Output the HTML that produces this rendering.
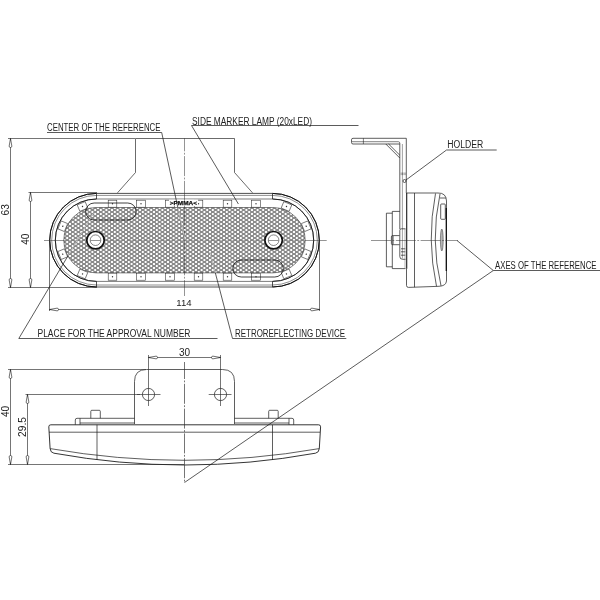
<!DOCTYPE html>
<html lang="en"><head><meta charset="utf-8"><title>Side marker lamp drawing</title>
<style>html,body{margin:0;padding:0;background:#fff}svg{display:block;will-change:transform;opacity:.999}text{font-family:"Liberation Sans",sans-serif;fill:#222}</style></head><body>
<svg width="600" height="600" viewBox="0 0 600 600">
<defs>
<pattern id="hex" x="0" y="0" width="5.6" height="4" patternUnits="userSpaceOnUse"><rect width="5.6" height="4" fill="#fff"/><path d="M-0.686,0 H0.686 L2.114,2 L0.686,4 H-0.686 M4.914,0 H6.286 M4.914,4 H6.286 M4.914,0 L3.486,2 L4.914,4 M2.114,2 H3.486" fill="none" stroke="#1a1a1a" stroke-width="0.78"/></pattern>
<clipPath id="rc"><rect x="63.90" y="207.60" width="241.20" height="65.2" rx="32.6"/></clipPath>
</defs>
<rect width="600" height="600" fill="#fff"/>
<g fill="none" stroke="#1a1a1a" stroke-width="0.75">
<path d="M117.5,192.8 L135.5,172.5 V138.5 H234.5 V172.5 L252.5,192.8" stroke-width="0.65"/>
<rect x="49.70" y="193.40" width="269.60" height="93.60" rx="46.80" stroke="#222" stroke-width="0.8" fill="#fff"/>
<rect x="51.70" y="195.40" width="265.60" height="89.60" rx="44.80" stroke="#333" stroke-width="0.55"/>
<rect x="55.30" y="199.00" width="258.40" height="82.40" rx="41.20" stroke="#444" stroke-width="0.7"/>
<rect x="63.80" y="207.50" width="241.40" height="65.40" rx="32.70" fill="url(#hex)" stroke="#333" stroke-width="0.6"/>
<path d="M96.5,193.39999999999998 v5.6 M96.5,287.0 v-5.6"/>
<path d="M272.5,193.39999999999998 v5.6 M272.5,287.0 v-5.6"/>
<path d="M96.5,193.39999999999998 A46.8,46.8 0 0 0 96.5,287.0 M272.5,193.39999999999998 A46.8,46.8 0 0 1 272.5,287.0" stroke="#111" stroke-width="1.0"/>
<path d="M96.5,199.0 A41.2,41.2 0 0 0 96.5,281.4 M272.5,199.0 A41.2,41.2 0 0 1 272.5,281.4" stroke="#111" stroke-width="0.85"/>
</g>
<g fill="#fff" stroke="#2a2a2a" stroke-width="0.55">
<g transform="translate(112.50,203.70) rotate(0.0)"><rect x="-4.3" y="-3.5" width="8.6" height="7.0"/><circle r="0.7" fill="#333" stroke="none"/></g>
<g transform="translate(112.50,276.70) rotate(0.0)"><rect x="-4.3" y="-3.5" width="8.6" height="7.0"/><circle r="0.7" fill="#333" stroke="none"/></g>
<g transform="translate(141.00,203.70) rotate(0.0)"><rect x="-4.3" y="-3.5" width="8.6" height="7.0"/><circle r="0.7" fill="#333" stroke="none"/></g>
<g transform="translate(141.00,276.70) rotate(0.0)"><rect x="-4.3" y="-3.5" width="8.6" height="7.0"/><circle r="0.7" fill="#333" stroke="none"/></g>
<g transform="translate(170.00,203.70) rotate(0.0)"><rect x="-4.3" y="-3.5" width="8.6" height="7.0"/><circle r="0.7" fill="#333" stroke="none"/></g>
<g transform="translate(170.00,276.70) rotate(0.0)"><rect x="-4.3" y="-3.5" width="8.6" height="7.0"/><circle r="0.7" fill="#333" stroke="none"/></g>
<g transform="translate(198.50,203.70) rotate(0.0)"><rect x="-4.3" y="-3.5" width="8.6" height="7.0"/><circle r="0.7" fill="#333" stroke="none"/></g>
<g transform="translate(198.50,276.70) rotate(0.0)"><rect x="-4.3" y="-3.5" width="8.6" height="7.0"/><circle r="0.7" fill="#333" stroke="none"/></g>
<g transform="translate(227.50,203.70) rotate(0.0)"><rect x="-4.3" y="-3.5" width="8.6" height="7.0"/><circle r="0.7" fill="#333" stroke="none"/></g>
<g transform="translate(227.50,276.70) rotate(0.0)"><rect x="-4.3" y="-3.5" width="8.6" height="7.0"/><circle r="0.7" fill="#333" stroke="none"/></g>
<g transform="translate(256.00,203.70) rotate(0.0)"><rect x="-4.3" y="-3.5" width="8.6" height="7.0"/><circle r="0.7" fill="#333" stroke="none"/></g>
<g transform="translate(256.00,276.70) rotate(0.0)"><rect x="-4.3" y="-3.5" width="8.6" height="7.0"/><circle r="0.7" fill="#333" stroke="none"/></g>
<g transform="translate(62.78,226.23) rotate(-157.5)"><rect x="-3.5" y="-4.3" width="7.0" height="8.6"/><circle r="0.7" fill="#333" stroke="none"/></g>
<g transform="translate(62.78,254.17) rotate(157.5)"><rect x="-3.5" y="-4.3" width="7.0" height="8.6"/><circle r="0.7" fill="#333" stroke="none"/></g>
<g transform="translate(306.22,226.23) rotate(-22.5)"><rect x="-3.5" y="-4.3" width="7.0" height="8.6"/><circle r="0.7" fill="#333" stroke="none"/></g>
<g transform="translate(306.22,254.17) rotate(22.5)"><rect x="-3.5" y="-4.3" width="7.0" height="8.6"/><circle r="0.7" fill="#333" stroke="none"/></g>
<g transform="translate(82.53,206.48) rotate(-112.5)"><rect x="-3.5" y="-4.3" width="7.0" height="8.6"/><circle r="0.7" fill="#333" stroke="none"/></g>
<g transform="translate(82.53,273.92) rotate(112.5)"><rect x="-3.5" y="-4.3" width="7.0" height="8.6"/><circle r="0.7" fill="#333" stroke="none"/></g>
<g transform="translate(286.47,206.48) rotate(-67.5)"><rect x="-3.5" y="-4.3" width="7.0" height="8.6"/><circle r="0.7" fill="#333" stroke="none"/></g>
<g transform="translate(286.47,273.92) rotate(67.5)"><rect x="-3.5" y="-4.3" width="7.0" height="8.6"/><circle r="0.7" fill="#333" stroke="none"/></g>
</g>
<g fill="none" stroke="#111" stroke-width="0.8">
<rect x="85.7" y="203" width="50.5" height="17" rx="8.5"/>
<rect x="232.8" y="260" width="50.5" height="17" rx="8.5"/>
</g>
<circle cx="95.5" cy="240.2" r="8.7" fill="#fff" stroke="#111" stroke-width="1.7"/>
<circle cx="95.5" cy="240.2" r="5.3" fill="#fff" stroke="#333" stroke-width="0.6"/>
<circle cx="273.6" cy="240.2" r="8.7" fill="#fff" stroke="#111" stroke-width="1.7"/>
<circle cx="273.6" cy="240.2" r="5.3" fill="#fff" stroke="#333" stroke-width="0.6"/>
<rect x="169" y="199.6" width="29" height="6.4" fill="#fff"/>
<text x="183.4" y="205.1" font-size="6" font-weight="bold" text-anchor="middle" textLength="27.2" stroke="#111" stroke-width="0.25" lengthAdjust="spacingAndGlyphs" style="fill:#111">&gt;PMMA&lt;</text>
<g fill="none" stroke="#2a2a2a" stroke-width="0.5" stroke-dasharray="20 1.5 1.8 1.5">
<path d="M184.5,138.3 V296" stroke-dashoffset="7"/>
<path d="M44,240.5 H64.5 M304.5,240.5 H326.7 M90.5,240.5 H100.5 M268.5,240.5 H278.5" stroke-dasharray="none"/>
<path d="M64.5,240.5 H86 M105,240.5 H264 M283,240.5 H304.5" stroke="#777" stroke-width="0.45"/>
</g>
<g fill="none" stroke="#2a2a2a" stroke-width="0.65">
<path d="M8,138.5 H135 M8,287.5 H97 M28.5,192.5 H97"/>
<path d="M10.5,138.5 V287.5 M30.5,192.5 V287.5"/>
<path d="M49.5,240 V311 M319.5,240 V311 M49.5,309.5 H319.5"/>
</g>
<g fill="#fff" stroke="#111" stroke-width="0.6">
<path d="M0,0 L-1.35,7.6 Q-1.3,9 0,9 Q1.3,9 1.35,7.6 Z" transform="translate(10.5,138.5) rotate(0)"/>
<path d="M0,0 L-1.35,7.6 Q-1.3,9 0,9 Q1.3,9 1.35,7.6 Z" transform="translate(10.5,287.5) rotate(180)"/>
<path d="M0,0 L-1.35,7.6 Q-1.3,9 0,9 Q1.3,9 1.35,7.6 Z" transform="translate(30.5,192.5) rotate(0)"/>
<path d="M0,0 L-1.35,7.6 Q-1.3,9 0,9 Q1.3,9 1.35,7.6 Z" transform="translate(30.5,287.5) rotate(180)"/>
<path d="M0,0 L-1.35,7.6 Q-1.3,9 0,9 Q1.3,9 1.35,7.6 Z" transform="translate(49.5,309.5) rotate(-90)"/>
<path d="M0,0 L-1.35,7.6 Q-1.3,9 0,9 Q1.3,9 1.35,7.6 Z" transform="translate(319.5,309.5) rotate(90)"/>
</g>
<text transform="translate(8.7,209.8) rotate(-90)" font-size="10.2" text-anchor="middle">63</text>
<text transform="translate(28.6,239.2) rotate(-90)" font-size="10.2" text-anchor="middle">40</text>
<text x="184" y="306.3" font-size="9.6" text-anchor="middle">114</text>
<g fill="none" stroke="#1a1a1a" stroke-width="0.72">
<path d="M47,132.5 H161.7 L184.8,240"/>
<path d="M358.5,125.5 H191.5 L238.4,204"/>
<path d="M217.5,338.5 H18.8 L93.8,212.5"/>
<path d="M346.3,338.5 H232.5 L210,252.5"/>
<path d="M496.7,150 H446.5 L406,180"/>
<path d="M600,270.5 H493.3 L457,240.5 M493.3,270.5 L184.5,482.5"/>
</g>
<g clip-path="url(#rc)" fill="none" stroke="#eee" stroke-width="0.8"><path d="M161.7,132.5 L185,240"/><path d="M232.5,338.3 L210,252.5"/><path d="M18.8,338.3 L93.8,212.5"/></g>
<text x="47" y="131" font-size="10" textLength="113.5" lengthAdjust="spacingAndGlyphs">CENTER OF THE REFERENCE</text>
<text x="192" y="125" font-size="10" textLength="120" lengthAdjust="spacingAndGlyphs">SIDE MARKER LAMP (20xLED)</text>
<text x="37.5" y="336.9" font-size="10" textLength="153" lengthAdjust="spacingAndGlyphs">PLACE FOR THE APPROVAL NUMBER</text>
<text x="235" y="336.9" font-size="10" textLength="110" lengthAdjust="spacingAndGlyphs">RETROREFLECTING DEVICE</text>
<text x="447.3" y="148" font-size="10" textLength="36" lengthAdjust="spacingAndGlyphs">HOLDER</text>
<text x="495" y="268.5" font-size="10" textLength="101.5" lengthAdjust="spacingAndGlyphs">AXES OF THE REFERENCE</text>
<g fill="none" stroke="#1a1a1a" stroke-width="0.7">
<path d="M406.3,193 V138.3 H353 Q351.5,138.3 351.5,139.8 V142.5 Q351.5,144 353,144 H399.8"/>
<path d="M363.4,138.3 V144 M352,141.7 H398.3 Q399.8,141.7 399.8,143.2" stroke-width="0.55"/>
<path d="M399.8,143.2 V229"/>
<path d="M402.4,144 V258.5" stroke="#555" stroke-width="0.55"/>
<path d="M385.8,144 L399.8,158 M388.6,144 L399.8,155.2"/>
<circle cx="404.5" cy="181" r="1.5"/>
<path d="M401.2,172.5 v2.6 M402.6,172.5 v2.6 M404,172.5 v2.6 M405.2,172.5 v2.6" stroke-width="0.4"/>
<path d="M406.5,193 H438 Q446.3,192.8 446.5,201 V281 Q446,286 439,286.3 L408.5,287.4 Q406.5,287.4 406.5,285.5 V268.7"/>
<path d="M406.7,193 V268.7" stroke-width="1.1"/>
<path d="M414.5,193 V287.2"/>
<path d="M435.5,193.5 Q426.5,240 436.5,286.3"/>
<path d="M440,194 Q430,240 441,285.8"/>
<path d="M440,198 H446"/>
<rect x="440.7" y="204" width="4.6" height="15.3" rx="0.8"/>
<path d="M446.3,208 V271" stroke="#111" stroke-width="1.3"/>
<ellipse cx="441.8" cy="240" rx="1.4" ry="11" fill="#b5b5b5" stroke="#333" stroke-width="0.5"/>
<path d="M392.3,213.2 H386.4 V266.8 H392.3"/>
<path d="M399.8,211.4 H392.3 V268.6 H405.5"/>
<path d="M399.5,235.6 H392.6 Q391.4,235.6 391.4,236.8 V243.5 Q391.4,244.7 392.6,244.7 H399.5"/>
<path d="M393.3,236 V244.3" stroke-width="0.5"/>
<path d="M405.5,228.8 H401.3 Q399.8,228.8 399.8,230.3 V256.5 Q399.8,259.3 402.6,259.3 H405.5 M401,248.8 H405.3 M401,251.8 H405.3 M401,255.2 H405.3"/>
<path d="M405,229 V268.5" stroke="#666" stroke-width="0.5"/>
</g>
<path d="M371,240.5 H458" fill="none" stroke="#2a2a2a" stroke-width="0.5" stroke-dasharray="20 1.5 1.8 1.5"/>
<g fill="none" stroke="#1a1a1a" stroke-width="0.7">
<path d="M134.5,424 V381.5 Q134.5,369.5 146.5,369.5 H222.5 Q234.5,369.5 234.5,381.5 V424"/>
<circle cx="148.5" cy="394.5" r="6.1"/><circle cx="220.5" cy="394.5" r="6.1"/>
<path d="M75.3,424.7 V420 Q75.3,418.3 77,418.3 H134.5 M80,418.3 V424.7 M80,423 H134.5"/>
<path d="M293.7,424.7 V420 Q293.7,418.3 292,418.3 H234.5 M289,418.3 V424.7 M289,423 H234.5"/>
<path d="M90.8,418.3 V411.3 Q90.8,410.3 91.8,410.3 H99.3 Q100.3,410.3 100.3,411.3 V418.3"/>
<path d="M268.7,418.3 V411.3 Q268.7,410.3 269.7,410.3 H277.2 Q278.2,410.3 278.2,411.3 V418.3"/>
<path d="M50.8,424.8 H318.6 Q320.6,424.8 320.6,426.8 L319.3,448.5 Q319,452.6 315.5,453.2 Q184.7,476.8 53.9,453.2 Q50.4,452.6 50.1,448.5 L48.8,426.8 Q48.8,424.8 50.8,424.8 Z" stroke="#111" stroke-width="0.85"/>
<path d="M49,432.2 H320"/>
<path d="M50.1,448.6 Q184.7,472 319.3,448.6"/>
<path d="M97,424.8 V459.7 M272.5,424.8 V459.7"/>
</g>
<g fill="none" stroke="#2a2a2a" stroke-width="0.65">
<path d="M184.5,362 V482.5" stroke-dasharray="20 1.5 1.8 1.5" stroke-dashoffset="3"/>
<path d="M148.5,355 V406 M220.5,355 V406 M208.7,394.5 H231.5 M137,394.5 H160.5"/>
<path d="M148.5,357.5 H220.5"/>
<path d="M8,369.5 H146 M8,464.5 H184 M25.5,394.5 H140"/>
<path d="M10.5,369.5 V464.5 M27.5,394.5 V464.5"/>
</g>
<g fill="#fff" stroke="#111" stroke-width="0.6">
<path d="M0,0 L-1.35,7.6 Q-1.3,9 0,9 Q1.3,9 1.35,7.6 Z" transform="translate(148.5,357.5) rotate(-90)"/>
<path d="M0,0 L-1.35,7.6 Q-1.3,9 0,9 Q1.3,9 1.35,7.6 Z" transform="translate(220.5,357.5) rotate(90)"/>
<path d="M0,0 L-1.35,7.6 Q-1.3,9 0,9 Q1.3,9 1.35,7.6 Z" transform="translate(10.5,369.5) rotate(0)"/>
<path d="M0,0 L-1.35,7.6 Q-1.3,9 0,9 Q1.3,9 1.35,7.6 Z" transform="translate(10.5,464.5) rotate(180)"/>
<path d="M0,0 L-1.35,7.6 Q-1.3,9 0,9 Q1.3,9 1.35,7.6 Z" transform="translate(27.5,394.5) rotate(0)"/>
<path d="M0,0 L-1.35,7.6 Q-1.3,9 0,9 Q1.3,9 1.35,7.6 Z" transform="translate(27.5,464.5) rotate(180)"/>
</g>
<text x="184.5" y="355.5" font-size="10" text-anchor="middle">30</text>
<text transform="translate(8.8,411.4) rotate(-90)" font-size="10.2" text-anchor="middle">40</text>
<text transform="translate(26,427) rotate(-90)" font-size="10.2" text-anchor="middle">29.5</text>
</svg></body></html>
